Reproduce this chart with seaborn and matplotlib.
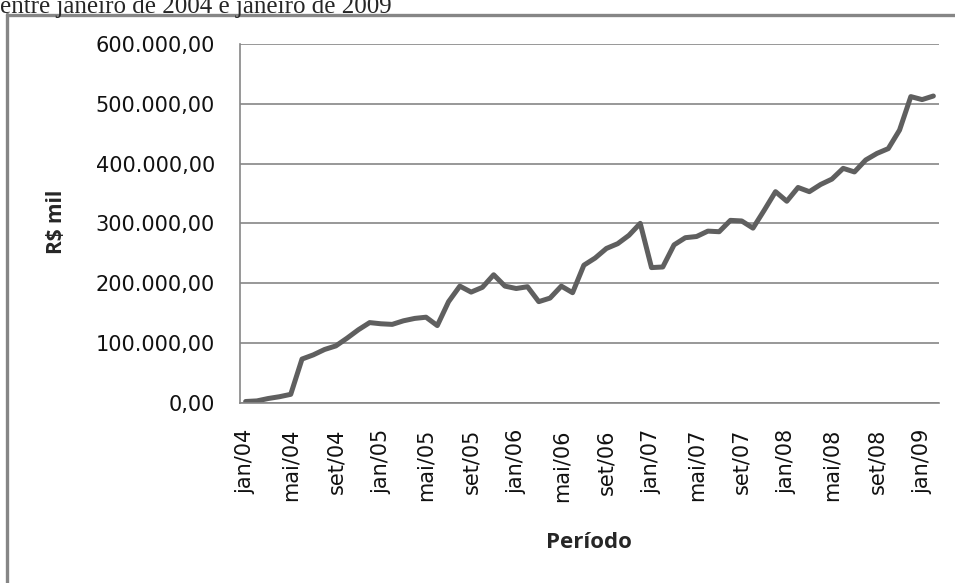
import pandas as pd
import matplotlib
matplotlib.use("Agg")
import matplotlib.pyplot as plt
import seaborn as sns
from matplotlib.ticker import FuncFormatter
from matplotlib.lines import Line2D

# ============================
# 데이터
# ============================
meses = ["jan", "fev", "mar", "abr", "mai", "jun",
         "jul", "ago", "set", "out", "nov", "dez"]
anos = [4, 5, 6, 7, 8, 9]

periodos = [f"{m}/{a:02d}" for a in anos for m in meses][:62]

valores = [
    2000, 3000, 7000, 10000, 14000, 73000, 80000, 89000, 95000, 108000,
    122000, 134000, 132000, 131000, 137000, 141000, 143000, 129000, 169000, 195000,
    185000, 193000, 214000, 195000, 191000, 194000, 169000, 175000, 195000, 184000,
    230000, 242000, 258000, 266000, 280000, 300000, 226000, 227000, 264000, 276000,
    278000, 287000, 286000, 305000, 304000, 292000, 322000, 353000, 337000, 360000,
    353000, 365000, 374000, 392000, 386000, 406000, 417000, 425000, 456000, 512000,
    507000, 513000,
]

df = pd.DataFrame({"idx": range(len(valores)), "periodo": periodos, "valor": valores})

titulo = "entre janeiro de 2004 e janeiro de 2009"
y_ticks = [0, 100000, 200000, 300000, 400000, 500000, 600000]

# ============================
# 스타일
# ============================
sns.set_style("white")
plt.rcParams["font.family"] = ["DejaVu Sans"]

fig = plt.figure(figsize=(9.55, 5.83), dpi=100)
ax = fig.add_axes([240 / 955, 1 - 402.7 / 583, 699 / 955, (402.7 - 44) / 583])

sns.lineplot(data=df, x="idx", y="valor", color="#5f5f5f", linewidth=3.6, ax=ax)

ax.set_xlim(-0.5, len(valores) - 0.5)
ax.set_ylim(0, 600000)
ax.set_yticks(y_ticks)
ax.yaxis.set_major_formatter(
    FuncFormatter(lambda v, p: f"{v:,.2f}".replace(",", "X").replace(".", ",").replace("X", "."))
)
ax.set_xticks(df["idx"][::4])
ax.set_xticklabels(df["periodo"][::4], rotation=90)

ax.grid(axis="y", color="#868686", linewidth=1.2)
ax.set_axisbelow(True)
for s in ["top", "right"]:
    ax.spines[s].set_visible(False)
for s in ["left", "bottom"]:
    ax.spines[s].set_color("#868686")
    ax.spines[s].set_linewidth(1.2)

ax.tick_params(axis="y", length=7, width=1.0, color="#868686", pad=11, labelsize=15, labelcolor="#111111")
ax.tick_params(axis="x", length=0, pad=19, labelsize=15, labelcolor="#111111")
ax.set_xlabel("")
ax.set_ylabel("")

fig.text(57 / 955, 1 - 222 / 583, "R$ mil", rotation=90, ha="center", va="center",
         fontsize=15, fontweight="bold", family=["Open Sans", "DejaVu Sans"])
fig.text(589 / 955, 1 - 543 / 583, "Período", ha="center", va="center",
         fontsize=16, fontweight="bold", family=["Open Sans", "DejaVu Sans"])

# 제목 (잘린 캡션)
fig.text(0.0, 1 - 13 / 583, titulo, ha="left", va="baseline",
         fontsize=18, family=["Liberation Serif", "DejaVu Serif"])

# 차트 테두리
fig.add_artist(Line2D([7 / 955, 7 / 955], [0, 1 - 14 / 583], transform=fig.transFigure,
                      color="#868686", linewidth=2.4))
fig.add_artist(Line2D([7 / 955, 1], [1 - 14.5 / 583, 1 - 14.5 / 583], transform=fig.transFigure,
                      color="#868686", linewidth=2.4))

fig.savefig("out.png", dpi=100)
